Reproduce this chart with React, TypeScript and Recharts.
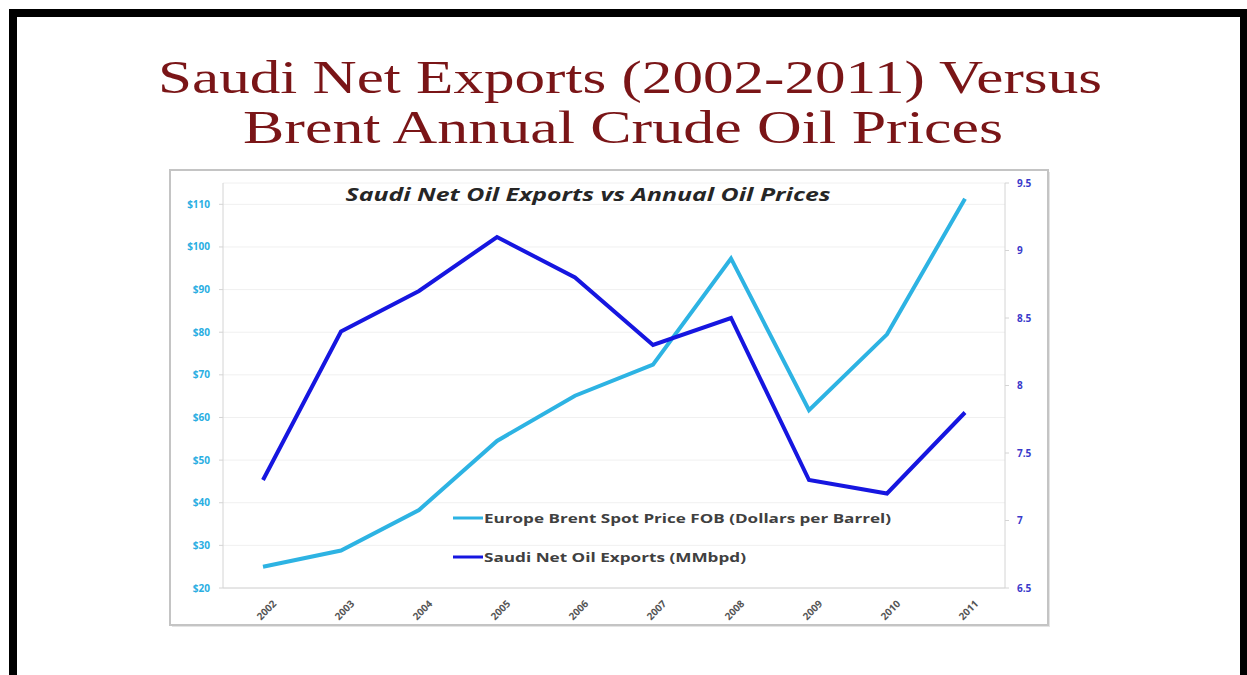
import { LineChart, Line, XAxis, YAxis, CartesianGrid } from "recharts";

const YEARS = ["2002", "2003", "2004", "2005", "2006", "2007", "2008", "2009", "2010", "2011"];
const BRENT_PRICE = [25.0, 28.8, 38.3, 54.5, 65.1, 72.4, 97.3, 61.7, 79.5, 111.3];
const SAUDI_EXPORTS = [7.3, 8.4, 8.7, 9.1, 8.8, 8.3, 8.5, 7.3, 7.2, 7.8];
const PRICE_TICKS = [20, 30, 40, 50, 60, 70, 80, 90, 100, 110];
const EXPORT_TICKS = [6.5, 7, 7.5, 8, 8.5, 9, 9.5];

const BRENT_NAME = "Europe Brent Spot Price FOB (Dollars per Barrel)";
const SAUDI_NAME = "Saudi Net Oil Exports (MMbpd)";

const BRENT_COLOR = "#2db3e3";
const SAUDI_COLOR = "#1616e0";

const data = YEARS.map((year, i) => ({
    year,
    brent: BRENT_PRICE[i],
    saudi: SAUDI_EXPORTS[i],
}));

const LEGEND_ITEMS = [
    { name: BRENT_NAME, color: BRENT_COLOR, len: 407, y: 518 },
    { name: SAUDI_NAME, color: SAUDI_COLOR, len: 262, y: 557 },
];

const XTick = ({ x, y, payload }: any) => (
    <g transform={`translate(${x},${y})`}>
        <text
            x={0}
            y={0}
            dx={4}
            dy={16}
            textAnchor="end"
            transform="rotate(-45)"
            fontSize={10}
            fontWeight="bold"
            fill="#555555"
            fontFamily="'Open Sans', sans-serif"
        >
            {payload.value}
        </text>
    </g>
);

const App = () => {
    return (
        <div
            style={{
                position: "absolute",
                left: 0,
                top: 0,
                width: 1247,
                height: 675,
                background: "#ffffff",
                overflow: "hidden",
            }}
        >
            <svg width={1247} height={675} style={{ position: "absolute", left: 0, top: 0 }}>
                {/* slide frame */}
                <rect x={9} y={9} width={1238} height={8} fill="#000000" />
                <rect x={9} y={9} width={8} height={666} fill="#000000" />
                <rect x={1240} y={9} width={7} height={666} fill="#000000" />
                <text
                    x={630}
                    y={93}
                    textAnchor="middle"
                    fontSize={46}
                    fill="#7a1517"
                    fontFamily="'Liberation Serif', 'Times New Roman', serif"
                    textLength={944}
                    lengthAdjust="spacingAndGlyphs"
                >
                    Saudi Net Exports (2002-2011) Versus
                </text>
                <text
                    x={623}
                    y={143}
                    textAnchor="middle"
                    fontSize={46}
                    fill="#7a1517"
                    fontFamily="'Liberation Serif', 'Times New Roman', serif"
                    textLength={760}
                    lengthAdjust="spacingAndGlyphs"
                >
                    Brent Annual Crude Oil Prices
                </text>
                {/* chart box */}
                <rect x={172} y={172} width={878} height={455} fill="#e4e4e4" />
                <rect x={170} y={170} width={878} height={455} fill="#ffffff" stroke="#c4c4c4" strokeWidth={2} />
            </svg>
            <div style={{ position: "absolute", left: 170, top: 170 }}>
                <LineChart width={878} height={455} data={data} margin={{ top: 13, right: 0, bottom: 0, left: 0 }}>
                    <CartesianGrid yAxisId="left" vertical={false} stroke="#f0f0f0" />
                    <XAxis
                        dataKey="year"
                        height={37}
                        padding={{ left: 40, right: 40 }}
                        axisLine={{ stroke: "#d4d4d4" }}
                        tickLine={false}
                        tick={<XTick />}
                        interval={0}
                    />
                    <YAxis
                        yAxisId="left"
                        width={53}
                        domain={[20, 115]}
                        ticks={PRICE_TICKS}
                        allowDataOverflow
                        axisLine={{ stroke: "#d4d4d4" }}
                        tickLine={{ stroke: "#d4d4d4" }}
                        tickSize={4}
                        tickMargin={9}
                        tickFormatter={(v: number) => `$${v}`}
                        tick={{ fontSize: 10, fontWeight: "bold", fill: "#2aaee2", fontFamily: "'Open Sans', sans-serif" }}
                    />
                    <YAxis
                        yAxisId="right"
                        orientation="right"
                        width={43}
                        domain={[6.5, 9.5]}
                        ticks={EXPORT_TICKS}
                        allowDataOverflow
                        axisLine={{ stroke: "#d4d4d4" }}
                        tickLine={{ stroke: "#d4d4d4" }}
                        tickSize={4}
                        tickMargin={8}
                        tick={{ fontSize: 10, fontWeight: "bold", fill: "#3a3acb", fontFamily: "'Open Sans', sans-serif" }}
                    />
                    <Line
                        yAxisId="left"
                        type="linear"
                        dataKey="brent"
                        name={BRENT_NAME}
                        stroke={BRENT_COLOR}
                        strokeWidth={4}
                        dot={false}
                        isAnimationActive={false}
                    />
                    <Line
                        yAxisId="right"
                        type="linear"
                        dataKey="saudi"
                        name={SAUDI_NAME}
                        stroke={SAUDI_COLOR}
                        strokeWidth={4}
                        dot={false}
                        isAnimationActive={false}
                    />
                </LineChart>
            </div>
            <svg width={1247} height={675} style={{ position: "absolute", left: 0, top: 0, pointerEvents: "none" }}>
                <text
                    x={588}
                    y={201}
                    textAnchor="middle"
                    fontSize={18}
                    fontWeight="bold"
                    fontStyle="italic"
                    fill="#262626"
                    fontFamily="'Open Sans', sans-serif"
                    textLength={485}
                    lengthAdjust="spacingAndGlyphs"
                >
                    Saudi Net Oil Exports vs Annual Oil Prices
                </text>
                {/* legend */}
                {LEGEND_ITEMS.map((item) => (
                    <g key={item.name}>
                        <line x1={453} y1={item.y} x2={483} y2={item.y} stroke={item.color} strokeWidth={3} />
                        <text
                            x={484}
                            y={item.y + 5}
                            fontSize={13}
                            fontWeight="bold"
                            fill="#404040"
                            fontFamily="'Open Sans', sans-serif"
                            textLength={item.len}
                            lengthAdjust="spacingAndGlyphs"
                        >
                            {item.name}
                        </text>
                    </g>
                ))}
            </svg>
        </div>
    );
};

export default App;
